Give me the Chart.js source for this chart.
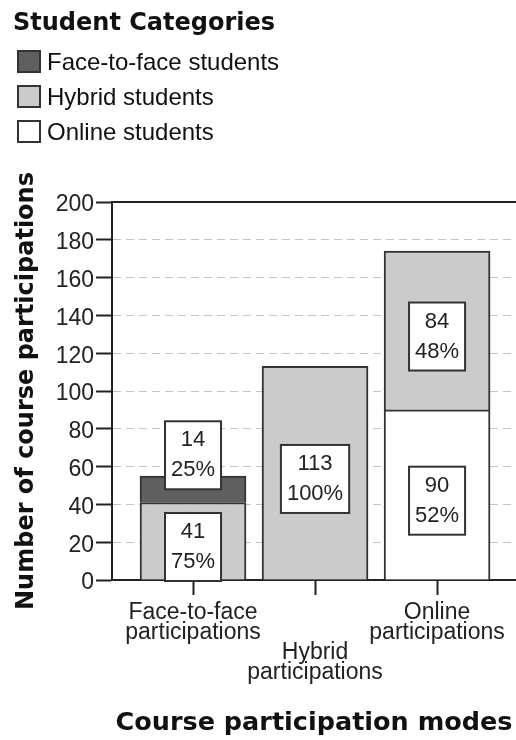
<!DOCTYPE html>
<html lang="en">
<head>
<meta charset="UTF-8">
<title>Course participation modes</title>
<script src="https://cdn.jsdelivr.net/npm/chart.js@4.4.0/dist/chart.umd.min.js"></script>
<style>
  html, body { margin: 0; padding: 0; background: #fff; }
  #wrap { position: relative; width: 516px; height: 740px; }
  #legend { position: absolute; left: 13px; top: 0; color: #111; font-family: "Liberation Sans", Arial, sans-serif; }
  #legend .title { font: bold 24px "DejaVu Sans", sans-serif; height: 44px; line-height: 44px; }
  #legend .item { display: flex; align-items: center; height: 35px; font-size: 24px; }
  #legend .swatch { box-sizing: border-box; width: 24px; height: 23px; border: 2px solid #333; margin: 0 6px 0 4px; }
</style>
</head>
<body>
<div id="wrap">
  <canvas id="chart" width="516" height="740"></canvas>
  <div id="legend"></div>
</div>
<script>
// categories (x axis), the hybrid one is pushed down two lines like in the original
const categories = [
  ['Face-to-face', 'participations'],
  ['', '', 'Hybrid', 'participations'],
  ['Online', 'participations']
];
const seriesNames = ['Online students', 'Hybrid students', 'Face-to-face students'];
const seriesColors = ['#ffffff', '#cbcbcb', '#5f5f5f'];
const online = [null, null, 90];
const hybrid = [41, 113, 84];
const faceToFace = [14, null, null];
const yMax = 200;
const yStep = 20;

const ink = '#222';
const labelFont = '"Liberation Sans", Arial, sans-serif';
const titleFont = '"DejaVu Sans", sans-serif';

// white boxes with count and percent of the bar total
const boxLabels = {
  id: 'boxLabels',
  afterDatasetsDraw(chart) {
    const ctx = chart.ctx;
    const sets = chart.data.datasets;
    const totals = categories.map((_, i) => sets.reduce((s, d) => s + (d.data[i] || 0), 0));
    ctx.save();
    ctx.font = '22px ' + labelFont;
    ctx.textAlign = 'center';
    ctx.textBaseline = 'middle';
    sets.forEach((ds, di) => {
      chart.getDatasetMeta(di).data.forEach((bar, i) => {
        const v = ds.data[i];
        if (!v) return;
        const lines = [String(v), Math.round(v / totals[i] * 100) + '%'];
        const w = Math.max(...lines.map(t => ctx.measureText(t).width)) + 12;
        const h = 68;
        const mid = (bar.y + bar.base) / 2;
        let cy = mid + 6;
        if (h > bar.base - bar.y) cy = mid - h / 2;
        ctx.fillStyle = '#fff';
        ctx.fillRect(bar.x - w / 2, cy - h / 2, w, h);
        ctx.lineWidth = 2;
        ctx.strokeStyle = '#333';
        ctx.strokeRect(bar.x - w / 2, cy - h / 2, w, h);
        ctx.fillStyle = ink;
        ctx.fillText(lines[0], bar.x, cy - 15);
        ctx.fillText(lines[1], bar.x, cy + 15);
      });
    });
    ctx.restore();
  }
};

const chart = new Chart(document.getElementById('chart'), {
  type: 'bar',
  data: {
    labels: categories.map((_, i) => i),
    datasets: [online, hybrid, faceToFace].map((d, i) => ({
      label: seriesNames[i],
      data: d,
      backgroundColor: seriesColors[i],
      borderColor: '#333',
      borderWidth: 2,
      barThickness: 106
    }))
  },
  options: {
    responsive: false,
    animation: false,
    devicePixelRatio: 1,
    layout: { padding: { top: 202, left: 0, right: 0, bottom: 0 } },
    plugins: { legend: { display: false }, tooltip: { enabled: false } },
    scales: {
      x: {
        type: 'linear',
        stacked: true,
        offset: false,
        min: -0.664,
        max: 2.647,
        afterFit: s => { s.height = 160; },
        grid: { drawOnChartArea: false, offset: false, tickLength: 15, tickWidth: 2, tickColor: ink },
        border: { color: ink, width: 2 },
        ticks: {
          stepSize: 1,
          includeBounds: false,
          autoSkip: false,
          maxRotation: 0,
          padding: 8,
          color: ink,
          font: { family: labelFont, size: 23, lineHeight: '20px' },
          callback: v => categories[v]
        },
        title: {
          display: true,
          text: 'Course participation modes',
          color: '#111',
          font: { family: titleFont, size: 25.5, weight: 'bold', lineHeight: 1.2 },
          padding: { top: 0, bottom: 1 }
        }
      },
      top: {
        type: 'linear',
        axis: 'x',
        position: 'top',
        grid: { display: false, drawTicks: false },
        ticks: { display: false },
        border: { display: true, color: ink, width: 2 }
      },
      y: {
        stacked: true,
        min: 0,
        max: yMax,
        afterFit: s => { s.width = 112; },
        grid: {
          color: c => (c.tick && (c.tick.value === 0 || c.tick.value === yMax)) ? 'rgba(0,0,0,0)' : '#c4c4c4',
          lineWidth: 1,
          tickLength: 16,
          tickWidth: 2,
          tickColor: ink,
          tickBorderDash: []
        },
        border: { color: ink, width: 2, dash: [8, 5] },
        ticks: {
          stepSize: yStep,
          padding: 2,
          labelOffset: 3,
          color: ink,
          font: { family: labelFont, size: 23 }
        },
        title: {
          display: true,
          text: 'Number of course participations',
          color: '#111',
          font: { family: titleFont, size: 24, weight: 'bold', lineHeight: 1.2 },
          padding: { top: 12, bottom: 0 }
        }
      }
    }
  },
  plugins: [boxLabels]
});

// legend in the top left corner, top item is the top stack segment
const legend = document.getElementById('legend');
legend.innerHTML = '<div class="title">Student Categories</div>';
chart.data.datasets.slice().reverse().forEach(ds => {
  const item = document.createElement('div');
  item.className = 'item';
  item.innerHTML = '<span class="swatch" style="background:' + ds.backgroundColor + '"></span>' + ds.label;
  legend.appendChild(item);
});
</script>
</body>
</html>
